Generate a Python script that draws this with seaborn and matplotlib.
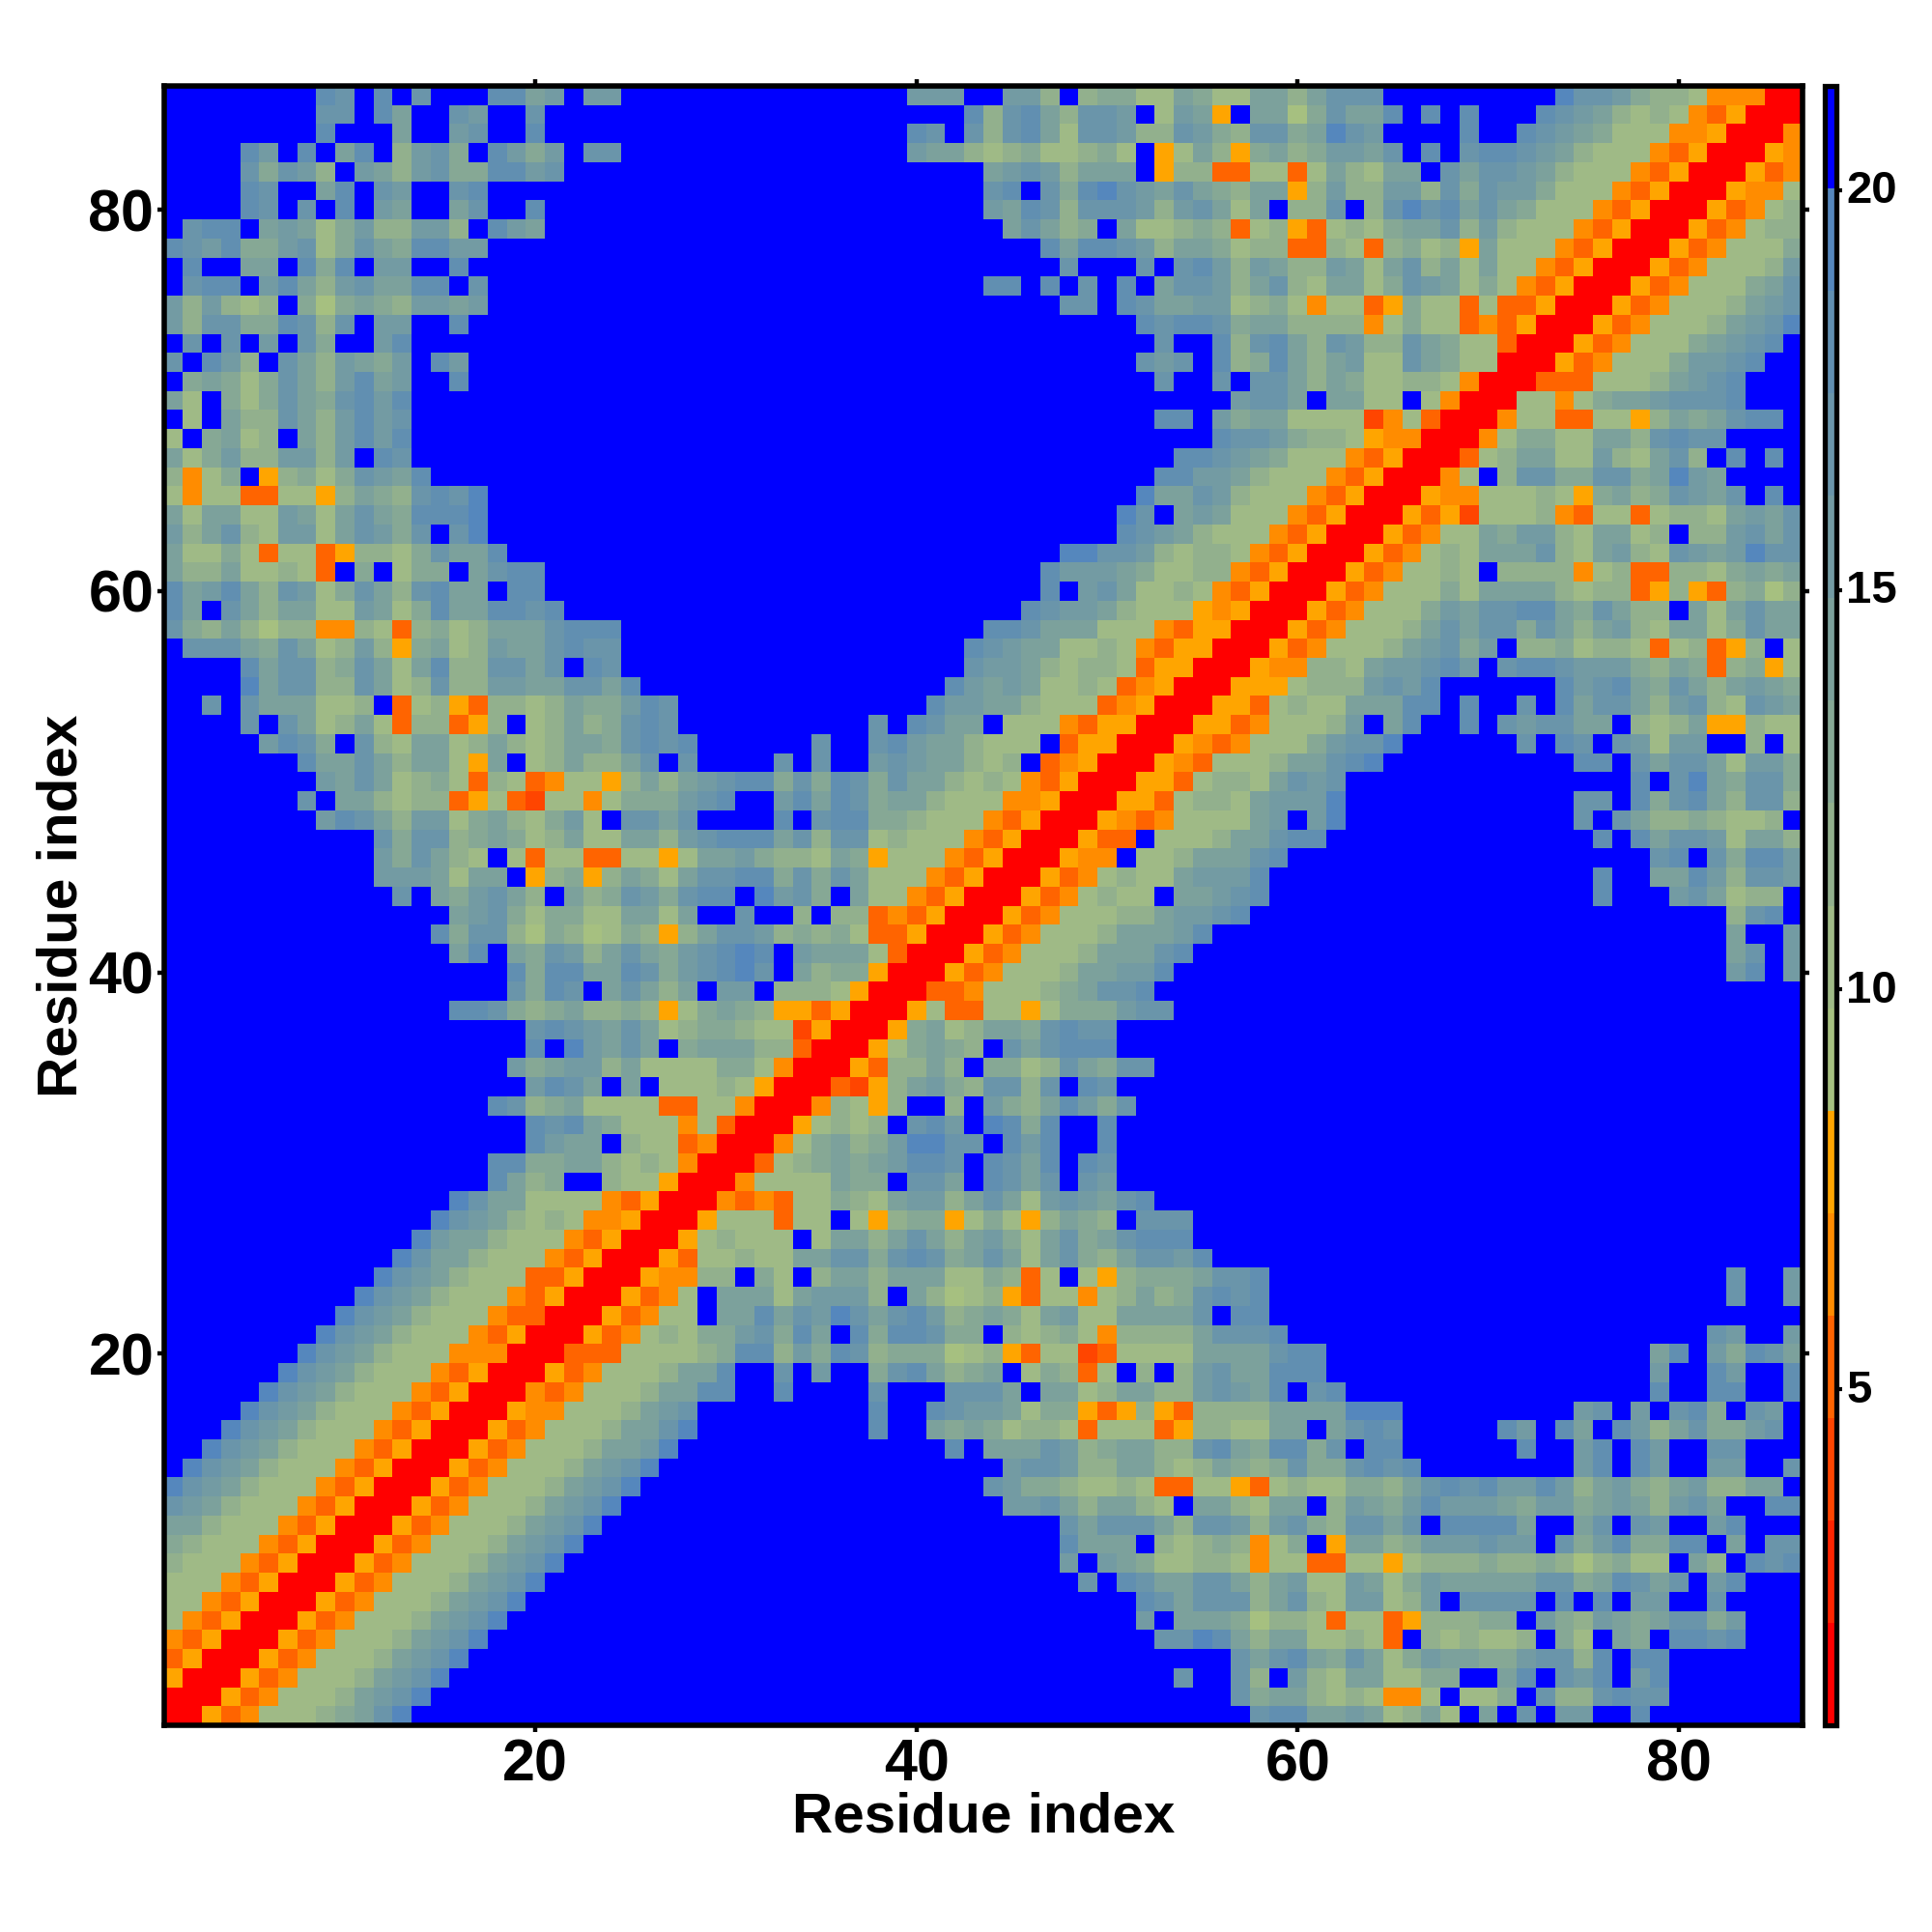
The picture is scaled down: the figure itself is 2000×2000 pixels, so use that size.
import numpy as np
import seaborn as sns
import matplotlib.pyplot as plt
from matplotlib.colors import ListedColormap
from matplotlib.transforms import ScaledTranslation

# one hex digit per cell = colour bin (0 red ... f blue)
# the map is symmetric so only x >= y is kept
# blocks in each row, split by space: x up to 22, 23-44, 45-65, 66-86 (missing cells are bin f)
rows_01_22 = [
    "0053477789ace f fffffffffffffcddaaba7 8a7fafcfbbffd",
    "005347778abce f ffffffffffffc9aa87874 47f779fc88cdcc",
    "005347778abce f fffffffffcffc8fb87aa7 799ffadfcbdfbd",
    "005347778abce f ffffffffffffcacda9ca7 9baa99bcc8dfdd",
    "005347778abce f ffffffffcceda8aa77873 f878778f97fa9fddcd",
    "005347778abce f fffffffbfaaa968873773 588899fb98ba9acc9b",
    "005347778abce f fffffffdcaccc8ac87bb7 8bfccccfdfdfbbffc",
    "005347778abce f ffffcfdcaacca8ab77ba7 9baaaaacc9adcacfbd",
    "005347778abce f fffbfba97788747733775 78889889868977fa8fdcd",
    "005347778abce f fffdaaaf87898479f5aa8 9bbbcbbfc9bd99ddfafcc",
    "005347778abc e fffcaccca8ccb8bc98cca cfddddaffacfcbffbd",
    "005347778ab ce bbca8aa87faa87aaf8ba9 bdbbba9bb9aba8bcaffdd",
    "005347778a bceffffffffffffffffffc b99877873377537877998 acdcdbbdb8ab98ab88aaf",
    "005347778 abce bccb88aa878a989c99cdc dffffffffbdfdbffbbffc",
    "00534777 8aabeffffffffffffffdfa aacb89aa88cda9dd9cfdd ffffffdffbdfdbffcc",
    "0053477 78aacefffffffffdffa9a9 78873777358877aafacdc fffffdbfdafdb8ac99bc",
    "005447 778abcfffffffffdffdcbb a7995358538888aaaaeee fffffffffbcfbfcd9fcb",
    "00434 7778aaddffdffffcfffccc afaa78aa88bcbadfcd fffffffffffffdffddffd",
    "0053 47778aadffcfbff9cda89a f79837f8f8bcaaddd fffffffffffffbffdbffd",
    "003 33777789dd8b9dc8999678 5377237777aaaacdd fffffffffffffadfb9dca",
    "00 53478799bc9dafd9ddc99f 8789748888acccd ffffffffffffffffcbffb",
    "0 053477faadacbecacdb89a 97ab77aaaacfdd",
]
rows_23_44 = [
    "005347faaa7abbb8fa8678 5377478a89cdcd fffffffffffffffffcffb",
    "0054488f97f8aa8aaa779 837f758999accd fffffffffffffffffcffb",
    "005377877aacc9cdc9ac a7ac98accbd",
    "00578777f7aa8aca8ab 97ac9acddd",
    "005777377f75899579 758a98fccc",
    "00434377987abb8ac a7bcbacd",
    "0047777a99fccafd cacfcb",
    "003789a9abddcfd cadfdc",
    "00479a89beeccf dbdffd",
    "0057878fcdbfe d9dffd",
    "0048758ff8fb 98adb9c",
    "003258ab98c c8cfdc",
    "005388a8f9 978ca9cc",
    "00579a98f cacddd",
    "0059a78a a9cdcc",
    "0057337 757999bcc",
    "003347 7789accd",
    "00534 7778aabbd fffffffffffffffffbdfb",
    "0053 47778aaacd fffffffffffffffffacfb",
    "005 347778aaabd fffffffffffffffffaffb",
    "00 53477788abbcd fffffffffffffffff8cdf",
    "0 05347877faabcd ffffffffffdfffbca788",
]
rows_45_65 = [
    "005347877abbbd ffffffffffdffaadb8ccb",
    "00544f778aaacd fffffffffffffcdfc9ddb",
    "00533f7778aacdd ffffffffffdfdaccb7aa8",
    "0054347777abfbe fffffffffcfca8898778f",
    "005537887abbbe fffffffffccfd9cda8cc8",
    "005537887acbc ffffffffffffdfcea9cc9",
    "005437778aacde fffffffffddfcacca7bb9",
    "0054347779bcce ffffffcfdcfcb7bbff8f7",
    "0055347778bfa dffdfcbccaaf878a55877",
    "005537877aaa ddfdffcfdacca8bc87cba",
    "005557888bc bdffffffdbcda9ca8aba9",
    "00544887ab bcdbfcddcbbb98a938957",
    "005347778 abc9bf8897887378358f7",
    "00534777 8acacc9ca8ab87aa79caa",
    "0053477 79baccdda9ca88fa7acaa",
    "005347 7797aaaa8788358538968",
    "00534 7787f8888478338879a9a",
    "0053 4787aaac87ab87cbabecc",
    "005 3477a9bb87aa78f88bcac",
    "00 535277784377 37887abac",
    "0 05447778759a89cbacfdf",
]
rows_66_86 = [
    "0047f8cc99cc9aeba",
    "00378aa77b87ac8fdfdf",
    "00479977aa8cdcc",
    "00477337758a9acddf",
    "0077479aabcccd",
    "003337778abcd",
    "005347779bbcd",
    "005347779abcd",
    "005347778abce",
    "005347778abc",
    "005347779ac",
    "005347778b",
    "005347779",
    "00534788",
    "0053478",
    "005447",
    "00534",
    "0054",
    "004",
    "00",
    "0",
]
rows_45_65[19] = "00 535277784377" + "37887abac"

n_res = 86
block_ends = [22, 44, 65, 86]
vmin, vmax = 0.8, 21.3
ticks = [20, 40, 60, 80]
cbar_ticks = [5, 10, 15, 20]

colors = ['#ff0000', '#ff2500', '#ff4500', '#ff6400', '#ff8c00', '#ffa500',
          '#a6c080', '#9fba86', '#92b08d', '#86a895', '#7ca19c', '#739ba3',
          '#6a95aa', '#618fb1', '#5587bd', '#0000ff']

rows = rows_01_22 + rows_23_44 + rows_45_65 + rows_66_86

bins = np.full((n_res, n_res), 15)
for y, row in enumerate(rows, start=1):
    ends = [e for e in block_ends if e >= y]
    parts = row.split(" ")
    if len(parts) > len(ends):
        raise ValueError(f"row {y} has too many blocks")
    x = y
    for part, end in zip(parts, ends):
        if len(part) > end - x + 1:
            raise ValueError(f"row {y} block ending at {end} too long")
        for ch in part:
            bins[y - 1, x - 1] = int(ch, 16)
            bins[x - 1, y - 1] = int(ch, 16)
            x += 1
        x = end + 1

step = (vmax - vmin) / len(colors)
dist = vmin + (bins + 0.5) * step

sns.set_style("white")
plt.rcParams['font.family'] = ['Liberation Sans', 'DejaVu Sans']
plt.rcParams['font.weight'] = 'bold'
plt.rcParams['text.color'] = 'black'
plt.rcParams['axes.labelcolor'] = 'black'
plt.rcParams['xtick.color'] = 'black'
plt.rcParams['ytick.color'] = 'black'

fig = plt.figure(figsize=(10, 10), dpi=200)
ax = fig.add_axes([0.0848, 0.107, 0.8482, 0.8485])
cax = fig.add_axes([0.9447, 0.107, 0.006, 0.8485])

sns.heatmap(dist, ax=ax, cbar_ax=cax, cmap=ListedColormap(colors), vmin=vmin, vmax=vmax,
            linewidths=0, square=False, xticklabels=False, yticklabels=False)
ax.invert_yaxis()

ax.set_xticks([t - 0.5 for t in ticks])
ax.set_yticks([t - 0.5 for t in ticks])
ax.set_xticklabels(ticks, fontsize=22, fontweight='bold')
ax.set_yticklabels(ticks, fontsize=22, fontweight='bold', rotation=0)
ax.tick_params(axis='both', which='major', direction='out', length=2.5, width=1.6, color='black',
               top=True, right=True, bottom=True, left=True)
ax.tick_params(axis='x', pad=2.3)
ax.tick_params(axis='y', pad=1.2)
ax.set_xlabel('Residue index', fontsize=21, fontweight='bold', labelpad=-0.5)
ax.set_ylabel('Residue index', fontsize=21, fontweight='bold', labelpad=0)
for s in ax.spines.values():
    s.set_visible(True)
    s.set_linewidth(2.0)
    s.set_color('black')

cbar = ax.collections[0].colorbar
cbar.set_ticks(cbar_ticks)
cbar.set_ticklabels(cbar_ticks, fontsize=17, fontweight='bold')
cbar.ax.tick_params(direction='out', length=2, width=1.5, color='black', pad=1.5, right=True)
cbar.outline.set_visible(True)
cbar.outline.set_linewidth(1.9)
cbar.outline.set_edgecolor('black')
# the colorbar numbers sit a little above their ticks
for lab in cbar.ax.get_yticklabels():
    lab.set_transform(lab.get_transform() + ScaledTranslation(0, 1.2 / 72, fig.dpi_scale_trans))

plt.savefig('out.png', dpi=200)
